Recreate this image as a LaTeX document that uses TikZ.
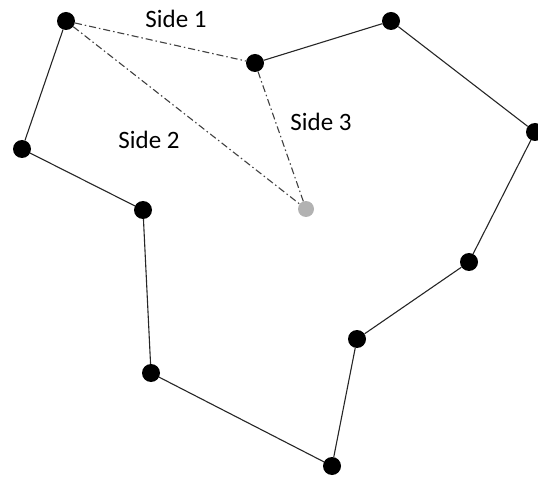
\documentclass[tikz,border=0pt]{standalone}
\usepackage{fontspec}
\setmainfont{Carlito}
\begin{document}
\begin{tikzpicture}[x=1pt,y=-1pt,
  vtx/.style={circle,fill=black,inner sep=0pt,minimum size=18pt},
  gvtx/.style={circle,fill=black!30,inner sep=0pt,minimum size=16pt},
  edge/.style={line width=1.1pt,black!85},
  dd/.style={line width=1.1pt,black!75,dash pattern=on 7pt off 3pt on 1.5pt off 3pt},
  lbl/.style={font=\fontsize{25}{30}\selectfont}]
\path[use as bounding box,clip] (0,0) rectangle (538,478);
\node[vtx] (A) at (66,21) {};
\node[vtx] (B) at (255,63) {};
\node[vtx] (C) at (391,21) {};
\node[vtx] (D) at (535,132) {};
\node[vtx] (E) at (469,262) {};
\node[vtx] (F) at (357,339) {};
\node[vtx] (G) at (332,466) {};
\node[vtx] (H) at (151,373) {};
\node[vtx] (I) at (143,210) {};
\node[vtx] (J) at (22,149) {};
\node[gvtx] (P) at (306,209) {};
\draw[edge] (A) -- (J) -- (I) -- (H) -- (G) -- (F) -- (E) -- (D) -- (C) -- (B);
\draw[dd] (A) -- (B);
\draw[dd] (A) -- (P);
\draw[dd] (B) -- (P);
\node[lbl] (s1) at (176,19) {Side 1};
\node[lbl] (s2) at (149,140) {Side 2};
\node[lbl] (s3) at (321,122) {Side 3};
\end{tikzpicture}
\end{document}
